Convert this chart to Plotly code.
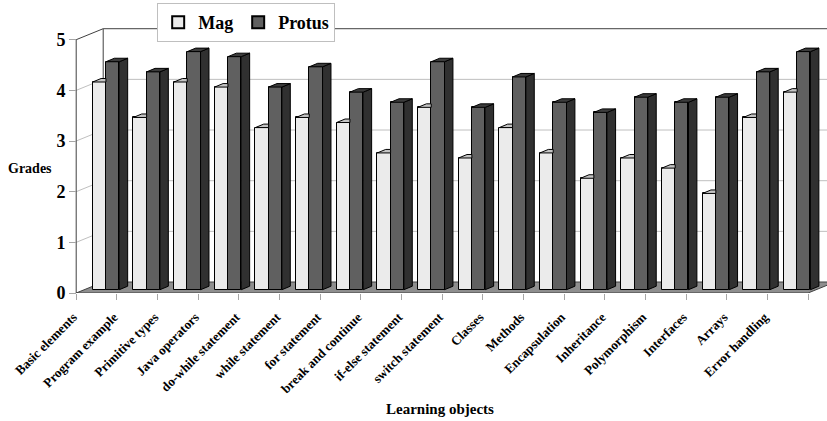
import numpy as np
import plotly.graph_objects as go

categories = ["Basic elements", "Program example", "Primitive types", "Java operators",
              "do-while statement", "while statement", "for statement", "break and continue",
              "if-else statement", "switch statement", "Classes", "Methods", "Encapsulation",
              "Inheritance", "Polymorphism", "Interfaces", "Arrays", "Error handling"]
mag = [4.1, 3.4, 4.1, 4.0, 3.2, 3.4, 3.3, 2.7, 3.6, 2.6, 3.2, 2.7, 2.2, 2.6, 2.4, 1.9, 3.4, 3.9]
protus = [4.5, 4.3, 4.7, 4.6, 4.0, 4.4, 3.9, 3.7, 4.5, 3.6, 4.2, 3.7, 3.5, 3.8, 3.7, 3.8, 4.3, 4.7]
y_ticks = [0, 1, 2, 3, 4, 5]

WALL_DX, WALL_DY = 0.664, 0.217
BAR_DX, BAR_DY = 0.207, 0.069
BASE = 0.065
BW = 0.327
MAG_L, PRO_L = 0.405, 0.732

PX_PER_CAT = 40.67
X0_PX = 76
X_START = -0.3
LEFT_M = X0_PX + X_START * PX_PER_CAT
PLOT_W = 827 - LEFT_M

n = len(categories)
idx = np.arange(n)
mag = np.array(mag)
protus = np.array(protus)

SERIF = "Liberation Serif"
fig = go.Figure()

shapes = []
floor_path = (f"M 0,0 L {n},0 L {n+WALL_DX},{WALL_DY} L {WALL_DX},{WALL_DY} Z")
shapes.append(dict(type="path", path=floor_path, xref="x", yref="y", layer="below",
                   fillcolor="#8E8E8E", line=dict(color="#404040", width=1)))
for k in y_ticks[1:]:
    col = "#404040" if k == y_ticks[-1] else "#BFBFBF"
    shapes.append(dict(type="line", xref="x", yref="y", layer="below",
                       x0=WALL_DX, x1=n + WALL_DX + 2, y0=k + WALL_DY, y1=k + WALL_DY,
                       line=dict(color=col, width=1)))
    shapes.append(dict(type="line", xref="x", yref="y", layer="below",
                       x0=0, x1=WALL_DX, y0=k, y1=k + WALL_DY,
                       line=dict(color=col, width=1)))
shapes.append(dict(type="line", xref="x", yref="y", layer="below",
                   x0=WALL_DX, x1=WALL_DX, y0=WALL_DY, y1=y_ticks[-1] + WALL_DY,
                   line=dict(color="#404040", width=1)))
shapes.append(dict(type="line", xref="x", yref="y", layer="below",
                   x0=0, x1=0, y0=0, y1=y_ticks[-1],
                   line=dict(color="#404040", width=1)))


def polys(pts_list):
    xs, ys = [], []
    for pts in pts_list:
        for (px, py) in pts:
            xs.append(px)
            ys.append(py)
        xs.append(pts[0][0]); ys.append(pts[0][1])
        xs.append(None); ys.append(None)
    return xs, ys


mag_top = []
for i, v in zip(idx, mag):
    xl, xr, t = i + MAG_L, i + MAG_L + BW, BASE + v
    mag_top.append([(xl, t), (xr, t), (xr, t + BAR_DY), (xl + BAR_DX, t + BAR_DY)])
xs, ys = polys(mag_top)
fig.add_trace(go.Scatter(x=xs, y=ys, fill="toself", fillcolor="#C4C4C4", mode="lines",
                         line=dict(color="black", width=1), showlegend=False, hoverinfo="skip"))

pro_top, pro_side = [], []
for i, v in zip(idx, protus):
    xl, xr, t = i + PRO_L, i + PRO_L + BW, BASE + v
    pro_top.append([(xl, t), (xr, t), (xr + BAR_DX, t + BAR_DY), (xl + BAR_DX, t + BAR_DY)])
    pro_side.append([(xr, BASE), (xr + BAR_DX, BASE + BAR_DY), (xr + BAR_DX, t + BAR_DY), (xr, t)])
xs, ys = polys(pro_side)
fig.add_trace(go.Scatter(x=xs, y=ys, fill="toself", fillcolor="#303030", mode="lines",
                         line=dict(color="black", width=1), showlegend=False, hoverinfo="skip"))
xs, ys = polys(pro_top)
fig.add_trace(go.Scatter(x=xs, y=ys, fill="toself", fillcolor="#3C3C3C", mode="lines",
                         line=dict(color="black", width=1), showlegend=False, hoverinfo="skip"))

fig.add_trace(go.Bar(x=idx + MAG_L + BW / 2, y=mag, base=BASE, width=BW, name="Mag",
                     marker=dict(color="#EBEBEB", line=dict(color="black", width=1))))
fig.add_trace(go.Bar(x=idx + PRO_L + BW / 2, y=protus, base=BASE, width=BW, name="Protus",
                     marker=dict(color="#606060", line=dict(color="black", width=1))))

yaxis_pos = (X0_PX - LEFT_M) / PLOT_W

fig.update_layout(
    width=827, height=421,
    margin=dict(l=LEFT_M, r=0, t=20, b=128),
    plot_bgcolor="white", paper_bgcolor="white",
    barmode="overlay", bargap=0,
    shapes=shapes,
    font=dict(family=SERIF, color="black"),
    showlegend=True,
    legend=dict(orientation="h", x=(157 - LEFT_M) / PLOT_W, xanchor="left",
                y=1.062, yanchor="top",
                bgcolor="white", bordercolor="#BFBFBF", borderwidth=1,
                font=dict(family=SERIF, size=18, weight="bold", color="black"),
                itemsizing="constant"),
    xaxis=dict(range=[X_START, X_START + PLOT_W / PX_PER_CAT], showgrid=False,
               zeroline=False, showline=False,
               tickmode="array", tickvals=idx - 0.07, ticktext=categories, tickangle=-45,
               ticks="", tickfont=dict(family=SERIF, size=13, weight="bold", color="black"),
               ticklabelstandoff=13,
               minor=dict(tickmode="array", tickvals=list(range(n + 1)), ticks="outside",
                          ticklen=6, tickcolor="#A6A6A6", showgrid=False)),
    yaxis=dict(range=[0, 273 / 50.66], showgrid=False, zeroline=False, showline=False,
               anchor="free", position=yaxis_pos,
               tickmode="array", tickvals=y_ticks, ticks="outside", ticklen=7,
               tickcolor="#A6A6A6",
               tickfont=dict(family=SERIF, size=18, weight="bold", color="black")),
    annotations=[
        dict(text="Grades", xref="paper", yref="paper", x=(6 - LEFT_M) / PLOT_W,
             y=(293 - 168) / 273, xanchor="left", yanchor="middle", showarrow=False,
             font=dict(family=SERIF, size=14, weight="bold", color="black")),
        dict(text="Learning objects", xref="paper", yref="paper", x=(440 - LEFT_M) / PLOT_W,
             y=-(409 - 293) / 273, xanchor="center", yanchor="middle", showarrow=False,
             font=dict(family=SERIF, size=15, weight="bold", color="black")),
    ],
)

fig.write_html("out.html")
